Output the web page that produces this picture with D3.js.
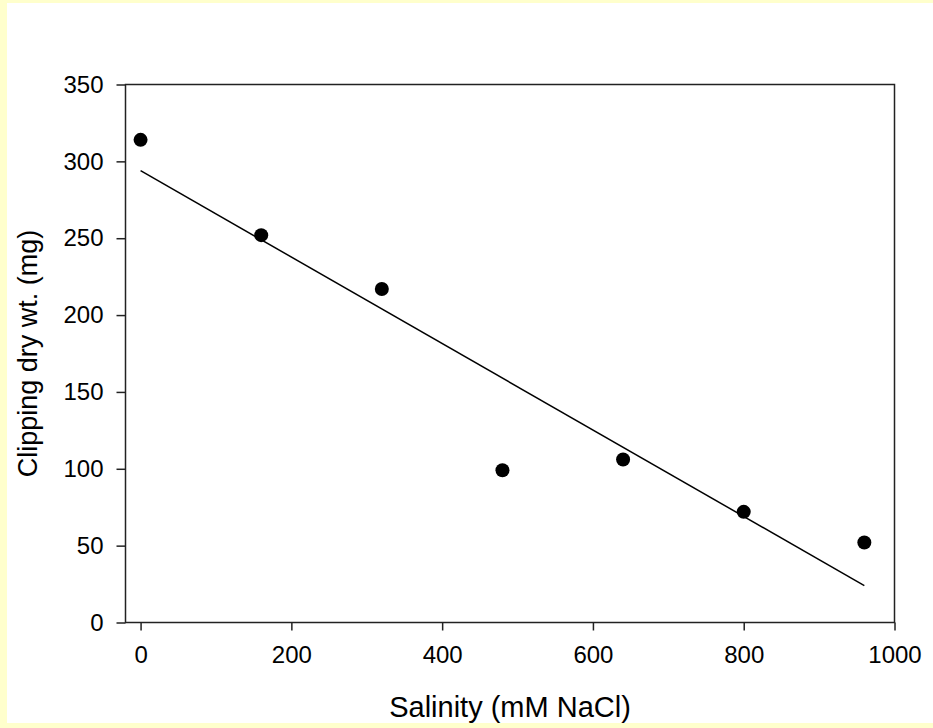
<!DOCTYPE html>
<html>
<head>
<meta charset="utf-8">
<script src="https://cdn.jsdelivr.net/npm/d3@7"></script>
<style>
  html, body { margin: 0; padding: 0; background: #FFFFCC; }
  svg { display: block; }
  text { font-family: "Liberation Sans", Arial, sans-serif; fill: #000; }
</style>
</head>
<body>
<svg id="chart" width="933" height="728"></svg>
<script>
// Data
const salinity = [0, 160, 320, 480, 640, 800, 960];
const dryWeight = [314, 252, 217, 99, 106, 72, 52];
const fitX = [0, 960];
const fitY = [294, 24];
const xTicks = [0, 200, 400, 600, 800, 1000];
const yTicks = [0, 50, 100, 150, 200, 250, 300, 350];
const xTitle = "Salinity (mM NaCl)";
const yTitle = "Clipping dry wt. (mg)";

const svg = d3.select("#chart");
const W = 933, H = 728;
const frame = { left: 125.5, top: 84.5, right: 894.5, bottom: 622.5 };

svg.append("rect").attr("x", 0).attr("y", 0).attr("width", W).attr("height", H).attr("fill", "#FFFFCC");
svg.append("rect").attr("x", 7).attr("y", 3).attr("width", W - 7).attr("height", 720).attr("fill", "#FFFFFF");

const x = d3.scaleLinear().domain([-20, 1000]).range([frame.left, frame.right]);
const y = d3.scaleLinear().domain([0, 350]).range([frame.bottom, frame.top]);

// Frame
svg.append("rect")
  .attr("x", frame.left).attr("y", frame.top)
  .attr("width", frame.right - frame.left).attr("height", frame.bottom - frame.top)
  .attr("fill", "none").attr("stroke", "#222").attr("stroke-width", 1.5);

// Axes
const fmt = d3.format("d");
const xAxis = d3.axisBottom(x).tickValues(xTicks).tickFormat(fmt).tickSize(8).tickPadding(15).tickSizeOuter(0);
const gx = svg.append("g").attr("transform", `translate(0,${frame.bottom})`).call(xAxis);
const yAxis = d3.axisLeft(y).tickValues(yTicks).tickFormat(fmt).tickSize(9).tickPadding(13).tickSizeOuter(0);
const gy = svg.append("g").attr("transform", `translate(${frame.left},0)`).call(yAxis);

[gx, gy].forEach(g => {
  g.attr("font-size", 24).attr("font-family", "Liberation Sans, Arial, sans-serif");
  g.select(".domain").remove();
  g.selectAll(".tick line").attr("stroke", "#222").attr("stroke-width", 1.5);
  g.selectAll(".tick text").attr("font-size", 24).attr("fill", "#000");
});

// Fit line
const line = d3.line().x(d => x(d[0])).y(d => y(d[1]));
svg.append("path")
  .datum(fitX.map((v, i) => [v, fitY[i]]))
  .attr("d", line)
  .attr("fill", "none").attr("stroke", "#000").attr("stroke-width", 1.5);

// Points
svg.selectAll("circle.pt")
  .data(salinity.map((v, i) => [v, dryWeight[i]]))
  .enter().append("circle")
  .attr("class", "pt")
  .attr("cx", d => x(d[0])).attr("cy", d => y(d[1]))
  .attr("r", 7).attr("fill", "#000");

// Titles
svg.append("text")
  .attr("x", (frame.left + frame.right) / 2).attr("y", 717)
  .attr("text-anchor", "middle").attr("font-size", 29)
  .text(xTitle);

svg.append("text")
  .attr("transform", `translate(37,${(frame.top + frame.bottom) / 2}) rotate(-90)`)
  .attr("text-anchor", "middle").attr("font-size", 27)
  .text(yTitle);
</script>
</body>
</html>
